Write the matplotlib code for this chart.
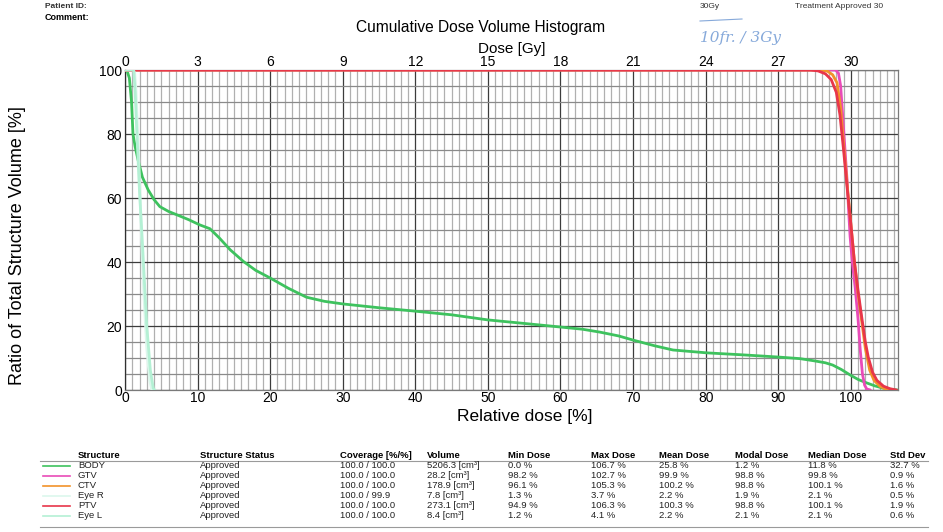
import matplotlib
matplotlib.use("Agg")
import matplotlib.pyplot as plt
from matplotlib.ticker import MultipleLocator, FixedLocator

plt.rcParams['font.family'] = ['Liberation Sans', 'DejaVu Sans']

W, H = 943, 532

# ---------------- data (relative dose %, volume %) ----------------
body_x = [0, 0.3, 0.6, 0.9, 1.1, 1.4, 1.8, 2.4, 3.2, 4.0, 4.8, 6.0, 7.2, 8.8, 10.3, 11.7,
          13.0, 14.5, 16.3, 18.0, 20.0, 22.5, 25.0, 27.5, 30.0, 35.0, 39.7, 45.0, 50.0,
          55.0, 59.9, 63.0, 65.4, 68.0, 70.0, 73.0, 75.5, 80.2, 85.0, 90.0, 93.0, 95.0,
          96.5, 97.5, 98.7, 99.9, 101.0, 102.2, 103.3, 104.4, 105.5, 106.5]
body_y = [100, 99.6, 97.5, 90, 80, 76, 71.9, 66.5, 62.5, 59.5, 57.3, 55.8, 54.7, 53.2, 51.6, 50.4,
          47.5, 43.8, 40.2, 37.4, 35.0, 31.8, 29.0, 27.7, 26.9, 25.7, 24.7, 23.5, 21.9,
          20.8, 19.7, 19.0, 18.1, 16.9, 15.6, 13.8, 12.5, 11.6, 11.0, 10.3, 9.8, 9.1,
          8.5, 7.8, 6.4, 4.7, 3.3, 2.2, 1.3, 0.6, 0.2, 0]

gtv_x = [0, 97.9, 98.3, 98.6, 98.9, 99.2, 99.5, 99.7, 99.9, 100.2, 100.6, 101.0, 101.3,
         101.6, 101.9, 102.2, 102.7]
gtv_y = [100, 100, 99, 95, 85, 75, 65, 56, 48, 40, 32, 22, 12.5, 5, 1.5, 0.3, 0]

ctv_x = [0, 96.0, 96.8, 97.5, 98.1, 98.6, 99.0, 99.5, 100.0, 100.5, 101.0, 101.5, 102.0,
         102.6, 103.2, 104.0, 104.7, 105.3]
ctv_y = [100, 100, 99.6, 98.5, 96, 88, 77, 64, 52, 40, 30, 21.5, 13, 6.2, 3, 1.2, 0.4, 0]

eyer_x = [0, 1.3, 1.5, 1.8, 2.2, 2.6, 3.0, 3.4, 3.7]
eyer_y = [100, 100, 94, 78, 52, 30, 13, 3, 0]

ptv_x = [0, 94.5, 95.5, 96.5, 97.3, 98.0, 98.5, 99.0, 99.5, 100.0, 100.5, 101.0, 101.5,
         102.0, 102.4, 103.0, 103.6, 104.5, 105.4, 106.3]
ptv_y = [100, 100, 99.7, 98.8, 97, 93, 86, 75, 63, 52, 40, 31, 22.8, 15, 10.3, 5.5, 3,
         1.2, 0.4, 0]

eyel_x = [0, 1.2, 1.4, 1.6, 2.0, 2.3, 2.7, 3.0, 3.5, 3.9, 4.1]
eyel_y = [100, 100, 93, 82, 62, 50, 33, 20, 6, 0.5, 0]

structures = ["BODY", "GTV", "CTV", "Eye R", "PTV", "Eye L"]
colors = ["#3ec25e", "#e94bb8", "#f2922a", "#dcf7ec", "#e8364a", "#b4f0d4"]
curves_x = [body_x, gtv_x, ctv_x, eyer_x, ptv_x, eyel_x]
curves_y = [body_y, gtv_y, ctv_y, eyer_y, ptv_y, eyel_y]

status = ["Approved"] * 6
coverage = ["100.0 / 100.0", "100.0 / 100.0", "100.0 / 100.0", "100.0 / 99.9",
            "100.0 / 100.0", "100.0 / 100.0"]
volume = ["5206.3 [cm³]", "28.2 [cm³]", "178.9 [cm³]", "7.8 [cm³]", "273.1 [cm³]", "8.4 [cm³]"]
min_dose = ["0.0 %", "98.2 %", "96.1 %", "1.3 %", "94.9 %", "1.2 %"]
max_dose = ["106.7 %", "102.7 %", "105.3 %", "3.7 %", "106.3 %", "4.1 %"]
mean_dose = ["25.8 %", "99.9 %", "100.2 %", "2.2 %", "100.3 %", "2.2 %"]
modal_dose = ["1.2 %", "98.8 %", "98.8 %", "1.9 %", "98.8 %", "2.1 %"]
median_dose = ["11.8 %", "99.8 %", "100.1 %", "2.1 %", "100.1 %", "2.1 %"]
std_dev = ["32.7 %", "0.9 %", "1.6 %", "0.5 %", "1.9 %", "0.6 %"]

headers = ["Structure", "Structure Status", "Coverage [%/%]", "Volume", "Min Dose",
           "Max Dose", "Mean Dose", "Modal Dose", "Median Dose", "Std Dev"]

gy_ticks = [0, 3, 6, 9, 12, 15, 18, 21, 24, 27, 30]
prescription_gy = 30.0

# ---------------- figure ----------------
fig = plt.figure(figsize=(W / 100, H / 100), dpi=100)
fig.patch.set_facecolor("white")

def P(x, y):
    return (x / W, 1 - y / H)

ax_left, ax_right, ax_top, ax_bot = 125, 898, 70, 390
ax = fig.add_axes([ax_left / W, 1 - ax_bot / H, (ax_right - ax_left) / W, (ax_bot - ax_top) / H])
ax.set_xlim(0, 106.5)
ax.set_ylim(0, 100)

ax.xaxis.set_major_locator(MultipleLocator(10))
ax.xaxis.set_minor_locator(MultipleLocator(1))
ax.yaxis.set_major_locator(MultipleLocator(20))
ax.yaxis.set_minor_locator(MultipleLocator(5))
ax.grid(which="minor", axis="x", color="#b0b0b0", lw=0.9)
ax.grid(which="minor", axis="y", color="#8a8a8a", lw=0.9)
ax.grid(which="major", color="#3c3c3c", lw=0.9)
ax.set_axisbelow(True)
ax.tick_params(which="both", length=0)
ax.tick_params(axis="x", pad=1, labelsize=10)
ax.tick_params(axis="y", pad=2, labelsize=10)
for s in ax.spines.values():
    s.set_color("#7a7a7a")
    s.set_linewidth(0.9)
ax.spines["left"].set_color("#303030")

for i, (xs, ys) in enumerate(zip(curves_x, curves_y)):
    ax.plot(xs, ys, color=colors[i], lw=2.0, zorder=3 + i, solid_capstyle="round")

ax.set_xlabel("Relative dose [%]", fontsize=12.5)
ax.xaxis.set_label_coords((525 - ax_left) / (ax_right - ax_left), -(417 - ax_bot) / (ax_bot - ax_top))
ax.xaxis.label.set_va("center")
ax.set_ylabel("Ratio of Total Structure Volume [%]", fontsize=13)
ax.yaxis.set_label_coords((18 - ax_left) / (ax_right - ax_left), (ax_bot - 246) / (ax_bot - ax_top))
ax.yaxis.label.set_va("center")

sec = ax.secondary_xaxis("top", functions=(lambda x: x * prescription_gy / 100.0,
                                           lambda g: g * 100.0 / prescription_gy))
sec.xaxis.set_major_locator(FixedLocator(gy_ticks))
sec.tick_params(length=0, pad=1, labelsize=10)
sec.spines["top"].set_visible(False)
sec.set_xlabel("Dose [Gy]", fontsize=11, labelpad=1)

fig.text(*P(481, 28), "Cumulative Dose Volume Histogram", fontsize=11.2, ha="center", va="center")

# header fragments
fig.text(*P(45, 18), "Comment:", fontsize=6.5, fontweight="bold", ha="left", va="center")
fig.text(*P(45, 6), "Patient ID:", fontsize=6, fontweight="bold", ha="left", va="center", color="#333333")
fig.text(*P(700, 6), "30Gy", fontsize=6, ha="left", va="center", color="#333333")
fig.text(*P(795, 6), "Treatment Approved 30", fontsize=6, ha="left", va="center", color="#333333")
# handwritten note
fig.text(*P(700, 38), "10fr. / 3Gy", fontsize=11, style="italic", ha="left", va="center",
         color="#86a9da", family="DejaVu Serif")
fig.add_artist(plt.Line2D([700 / W, 742 / W], [1 - 21 / H, 1 - 19 / H], color="#86a9da", lw=0.8))

# ---------------- table ----------------
col_x = [78, 200, 340, 427, 508, 591, 659, 735, 808, 890]
header_y = 455
row_y0, row_dy = 466, 9.9
for cx, h in zip(col_x, headers):
    fig.text(*P(cx, header_y), h, fontsize=6.8, fontweight="bold", ha="left", va="center")
fig.add_artist(plt.Line2D([40 / W, 928 / W], [1 - 461 / H, 1 - 461 / H], color="#9a9a9a", lw=0.8))
cols = [structures, status, coverage, volume, min_dose, max_dose, mean_dose, modal_dose,
        median_dose, std_dev]
for r in range(len(structures)):
    y = row_y0 + r * row_dy
    fig.add_artist(plt.Line2D([43 / W, 70 / W], [1 - y / H, 1 - y / H], color=colors[r], lw=1.2))
    for cx, col in zip(col_x, cols):
        fig.text(*P(cx, y), col[r], fontsize=6.8, ha="left", va="center", color="#222222")
fig.add_artist(plt.Line2D([40 / W, 928 / W], [1 - 527 / H, 1 - 527 / H], color="#9a9a9a", lw=0.8))

fig.savefig("out.png", dpi=100, facecolor="white")
